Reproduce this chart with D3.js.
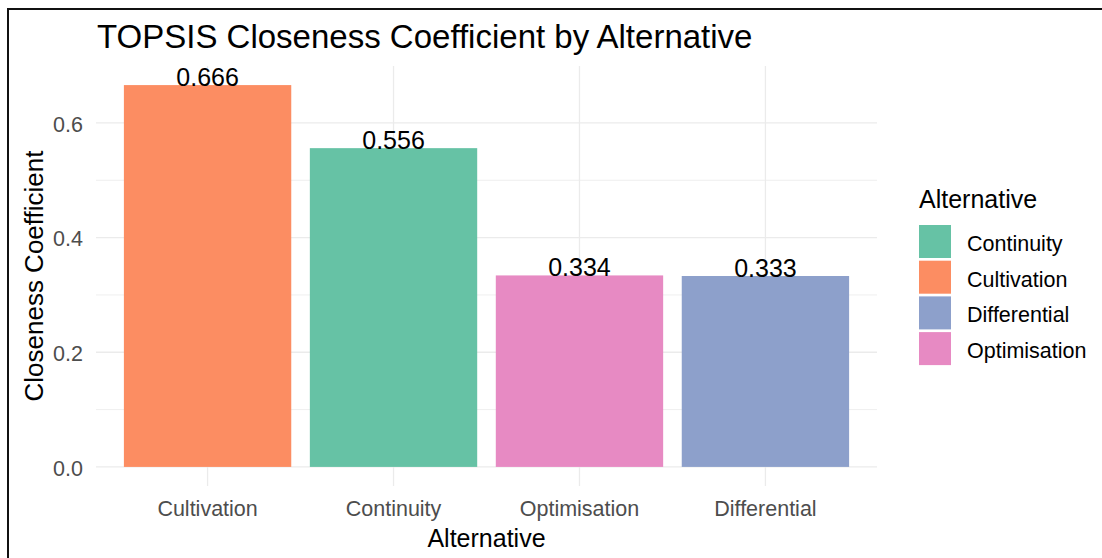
<!DOCTYPE html>
<html>
<head>
<meta charset="utf-8">
<script src="https://cdn.jsdelivr.net/npm/d3@7"></script>
<style>
  html, body { margin: 0; padding: 0; background: #fff; }
  svg { display: block; font-family: "Liberation Sans", Arial, sans-serif; }
</style>
</head>
<body>
<svg id="chart" width="1102" height="558"></svg>
<script>
// Closeness coefficient per alternative, bars sorted from highest to lowest
const categories = ["Cultivation", "Continuity", "Optimisation", "Differential"];
const closeness = [0.666, 0.556, 0.334, 0.333];
const labels = ["0.666", "0.556", "0.334", "0.333"];

// Legend entries (alphabetical) and their fills
const legendNames = ["Continuity", "Cultivation", "Differential", "Optimisation"];
const legendColors = ["#66C2A5", "#FC8D62", "#8DA0CB", "#E78AC3"];

const yTicks = [0, 0.2, 0.4, 0.6];
const yMinorTicks = [0.1, 0.3, 0.5];

const svg = d3.select("#chart");
const W = 1102, H = 558;
const panel = { left: 96, right: 877, top: 66, bottom: 486 };

const color = d3.scaleOrdinal().domain(legendNames).range(legendColors);

const ymax = d3.max(closeness);
const pad = ymax * 0.05;
const y = d3.scaleLinear().domain([-pad, ymax + pad]).range([panel.bottom, panel.top]);
const x = d3.scaleBand().domain(categories).range([panel.left, panel.right])
  .paddingInner(0.1).paddingOuter(0.15);

// outer frame
svg.append("path")
  .attr("d", `M8,${H} L8,9 L${W},9`)
  .attr("fill", "none").attr("stroke", "#111").attr("stroke-width", 2);

// grid
const grid = svg.append("g");
grid.selectAll("line.minor").data(yMinorTicks).join("line")
  .attr("x1", panel.left).attr("x2", panel.right)
  .attr("y1", d => y(d)).attr("y2", d => y(d))
  .attr("stroke", "#EBEBEB").attr("stroke-width", 0.8);
grid.selectAll("line.major").data(yTicks).join("line")
  .attr("x1", panel.left).attr("x2", panel.right)
  .attr("y1", d => y(d)).attr("y2", d => y(d))
  .attr("stroke", "#EBEBEB").attr("stroke-width", 1.3);
grid.selectAll("line.vx").data(categories).join("line")
  .attr("x1", d => x(d) + x.bandwidth() / 2).attr("x2", d => x(d) + x.bandwidth() / 2)
  .attr("y1", panel.top).attr("y2", panel.bottom)
  .attr("stroke", "#EBEBEB").attr("stroke-width", 1.3);

// bars
const data = categories.map((c, i) => ({ c, v: closeness[i], label: labels[i] }));
svg.append("g").selectAll("rect").data(data).join("rect")
  .attr("x", d => x(d.c)).attr("width", x.bandwidth())
  .attr("y", d => y(d.v)).attr("height", d => y(0) - y(d.v))
  .attr("fill", d => color(d.c));

// value labels
svg.append("g").selectAll("text").data(data).join("text")
  .attr("x", d => x(d.c) + x.bandwidth() / 2)
  .attr("y", d => y(d.v) + 0.5)
  .attr("text-anchor", "middle")
  .attr("font-size", 25).attr("fill", "#000")
  .text(d => d.label);

// y axis
const yAxis = svg.append("g").attr("transform", `translate(${panel.left - 13},0)`)
  .call(d3.axisLeft(y).tickValues(yTicks).tickFormat(d3.format(".1f")).tickSize(0).tickPadding(0));
yAxis.select(".domain").remove();
yAxis.selectAll("text").attr("font-size", 21.5).attr("fill", "#4D4D4D")
  .attr("font-family", "Liberation Sans, Arial, sans-serif").attr("dy", "0.38em");

// x axis
const xAxis = svg.append("g").attr("transform", `translate(0,${panel.bottom})`)
  .call(d3.axisBottom(x).tickSize(0).tickPadding(0));
xAxis.select(".domain").remove();
xAxis.selectAll("text").attr("font-size", 21.5).attr("fill", "#4D4D4D")
  .attr("font-family", "Liberation Sans, Arial, sans-serif")
  .attr("y", 30).attr("dy", 0);

// axis titles
svg.append("text")
  .attr("x", (panel.left + panel.right) / 2).attr("y", 547)
  .attr("text-anchor", "middle").attr("font-size", 25).attr("fill", "#000")
  .text("Alternative");
svg.append("text")
  .attr("transform", `translate(43,${(panel.top + panel.bottom) / 2}) rotate(-90)`)
  .attr("text-anchor", "middle").attr("font-size", 26).attr("fill", "#000")
  .text("Closeness Coefficient");

// title
svg.append("text")
  .attr("x", 97).attr("y", 48)
  .attr("font-size", 33).attr("fill", "#000")
  .text("TOPSIS Closeness Coefficient by Alternative");

// legend
const lg = svg.append("g").attr("transform", "translate(919,0)");
lg.append("text").attr("x", 0).attr("y", 208)
  .attr("font-size", 25).attr("fill", "#000").text("Alternative");
const items = lg.selectAll("g.item").data(legendNames).join("g")
  .attr("transform", (d, i) => `translate(0,${225 + i * 35.7})`);
items.append("rect").attr("width", 32).attr("height", 33)
  .attr("fill", d => color(d));
items.append("text").attr("x", 48).attr("y", 16.5 + 9.5)
  .attr("font-size", 21.5).attr("fill", "#000").text(d => d);
</script>
</body>
</html>
